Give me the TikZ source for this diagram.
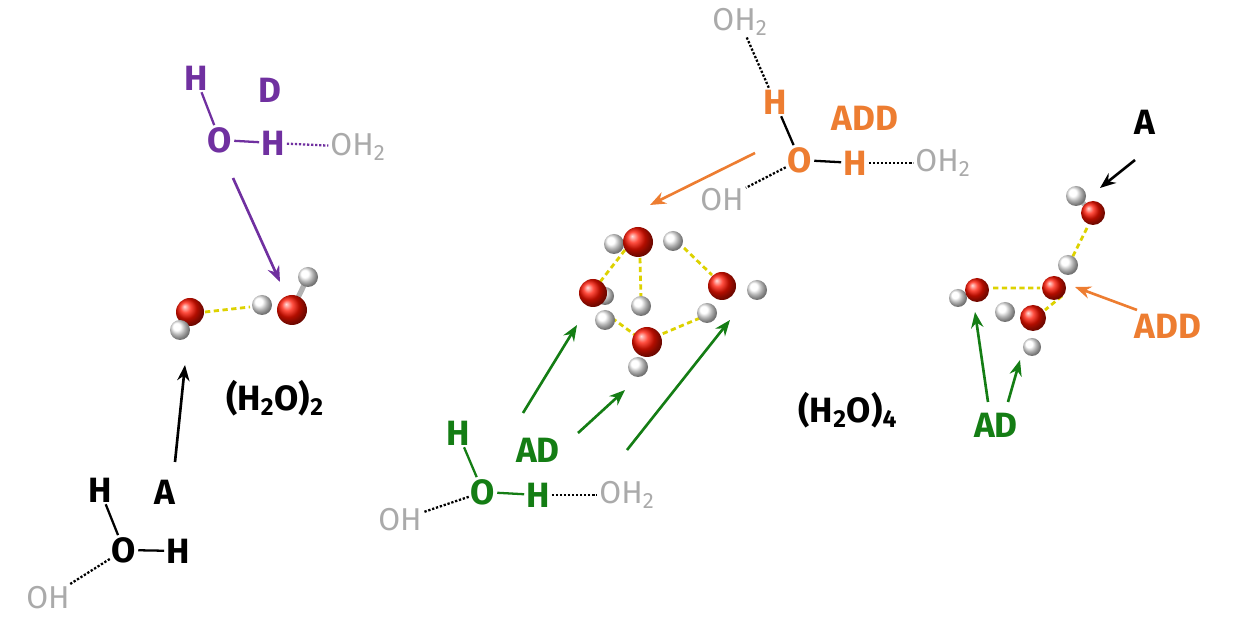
\documentclass[tikz,border=0pt]{standalone}
\usepackage{fontspec}
\setmainfont{Fira Sans}
\usetikzlibrary{arrows.meta}
\definecolor{purp}{RGB}{112,48,160}
\definecolor{orng}{RGB}{237,125,49}
\definecolor{grn}{RGB}{20,125,20}
\definecolor{gry}{RGB}{170,170,170}
\newcommand{\sub}[1]{\textsubscript{#1}}
\tikzset{
  lbl/.style={font=\bfseries\fontsize{20}{20}\selectfont,inner sep=1pt},
  glbl/.style={font=\fontsize{18}{18}\selectfont,text=gry,inner sep=1pt},
  ox/.style={ball color=red!85!orange,draw=none},
  hy/.style={ball color=white,draw=none},
  hb/.style={yellow!70!olive,densely dashed,line width=1.6pt},
  arr/.style={-{Stealth[length=9pt,width=7pt]},line width=1.5pt},
  dots/.style={densely dotted,line width=1.3pt}
}
\begin{document}
\begin{tikzpicture}[x=0.02cm,y=-0.02cm]
\useasboundingbox (0,0) rectangle (1244,624);
%donor top left
\node[lbl,text=purp] (h1) at (196,78) {H};
\node[lbl,text=purp] (d) at (270,90) {D};
\node[lbl,text=purp] (o1) at (220,140) {O};
\node[lbl,text=purp] (h2) at (273,143) {H};
\node[glbl] (w1) at (358,147) {OH\sub{2}};
\draw[purp,line width=1.3pt] (h1) -- (o1);
\draw[purp,line width=1.3pt] (o1) -- (h2);
\draw[purp,dots] (h2) -- (w1);
%dimer
\draw[gray!60,line width=3pt] (190,312) -- (180,330) (292,310) -- (308,277);
\draw[hb] (205,312) -- (250,307);
\shade[ox] (190,312) circle (14);
\shade[hy] (180,330) circle (10);
\shade[hy] (262,305) circle (10);
\shade[hy] (308,277) circle (10);
\shade[ox] (292,310) circle (15);
\node[lbl,text=black] (di) at (275,398) {(H\sub{2}O)\sub{2}};
\coordinate (dt) at (280,282);
\coordinate (db) at (185,365);
\draw[arr,purp] (233,178) -- (dt);
\draw[arr,black] (175,462) -- (db);
%acceptor bottom left
\node[lbl,text=black] (h3) at (100,490) {H};
\node[lbl,text=black] (a1) at (165,492) {A};
\node[lbl,text=black] (o2) at (124,550) {O};
\node[lbl,text=black] (h4) at (178,551) {H};
\node[glbl] (w2) at (48,598) {OH};
\draw[line width=1.3pt] (h3) -- (o2);
\draw[line width=1.3pt] (o2) -- (h4);
\draw[dots] (o2) -- (w2);
%ADD molecule
\node[glbl] (w3) at (740,22) {OH\sub{2}};
\node[lbl,text=orng] (h5) at (775,102) {H};
\node[lbl,text=orng] (add1) at (865,118) {ADD};
\node[lbl,text=orng] (o3) at (800,160) {O};
\node[lbl,text=orng] (h6) at (855,163) {H};
\node[glbl] (w4) at (943,163) {OH\sub{2}};
\node[glbl] (w5) at (722,200) {OH};
\draw[dots] (w3) -- (h5);
\draw[line width=1.3pt] (h5) -- (o3);
\draw[line width=1.3pt] (o3) -- (h6);
\draw[dots] (h6) -- (w4);
\draw[dots] (o3) -- (w5);
\draw[arr,orng] (755,153) -- (650,205);
%tetramer
\draw[hb] (625,250) -- (600,282) (640,258) -- (641,300) (684,248) -- (712,275)
  (612,318) -- (635,335) (700,318) -- (662,334);
\shade[hy] (614,244) circle (10);
\shade[hy] (673,241) circle (10);
\shade[ox] (638,242) circle (15);
\shade[hy] (605,320) circle (10);
\shade[hy] (605,296) circle (9);
\shade[ox] (593,293) circle (14);
\shade[hy] (641,306) circle (10);
\shade[hy] (707,313) circle (10);
\shade[hy] (757,290) circle (10);
\shade[ox] (722,286) circle (14);
\shade[hy] (638,367) circle (10);
\shade[ox] (647,342) circle (15);
\node[lbl,text=black] (te) at (848,410) {(H\sub{2}O)\sub{4}};
%AD molecule
\node[lbl,text=grn] (h7) at (458,433) {H};
\node[lbl,text=grn] (ad1) at (538,450) {AD};
\node[lbl,text=grn] (o4) at (483,492) {O};
\node[lbl,text=grn] (h8) at (538,495) {H};
\node[glbl] (w6) at (627,495) {OH\sub{2}};
\node[glbl] (w7) at (400,520) {OH};
\draw[grn,line width=1.3pt] (h7) -- (o4);
\draw[grn,line width=1.3pt] (o4) -- (h8);
\draw[dots] (h8) -- (w6);
\draw[dots] (o4) -- (w7);
\draw[arr,grn] (523,413) -- (577,325);
\draw[arr,grn] (578,433) -- (625,390);
\draw[arr,grn] (627,450) -- (730,320);
%tetramer side view
\draw[gray!60,line width=3pt] (1093,213) -- (1076,196);
\draw[hb] (1087,228) -- (1070,262) (993,288) -- (1040,288) (1062,296) -- (1045,310);
\shade[hy] (1076,196) circle (10);
\shade[ox] (1093,213) circle (12);
\shade[hy] (1068,265) circle (10);
\shade[hy] (958,298) circle (9);
\shade[ox] (977,290) circle (12);
\shade[hy] (1005,312) circle (10);
\shade[ox] (1054,288) circle (12);
\shade[hy] (1032,347) circle (9);
\shade[ox] (1033,318) circle (13);
\node[lbl,text=black] (a2) at (1145,122) {A};
\node[lbl,text=orng] (add2) at (1168,326) {ADD};
\node[lbl,text=grn] (ad2) at (996,425) {AD};
\draw[arr,black] (1135,160) -- (1100,188);
\draw[arr,orng] (1137,310) -- (1075,287);
\draw[arr,grn] (988,402) -- (975,312);
\draw[arr,grn] (1008,402) -- (1020,360);
\end{tikzpicture}
\end{document}
